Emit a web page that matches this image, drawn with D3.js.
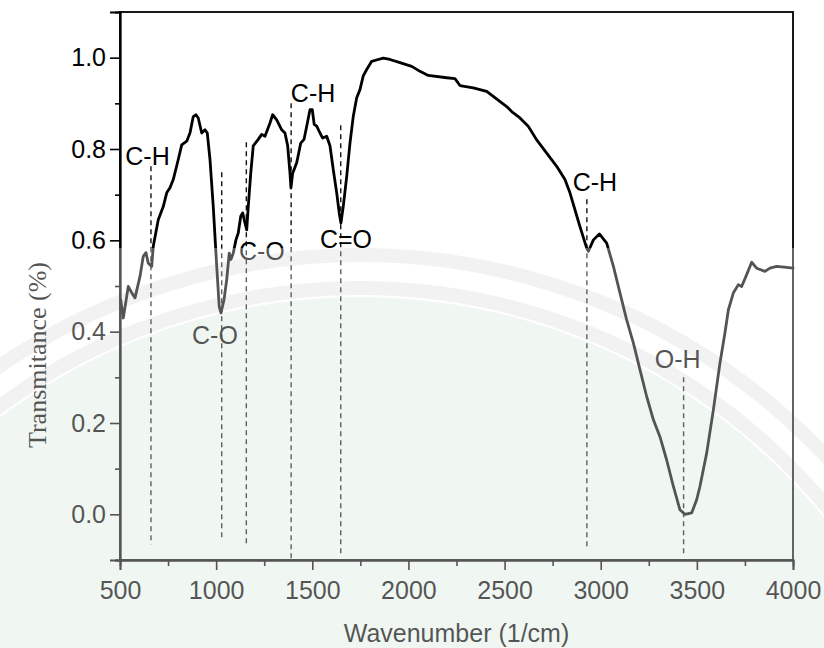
<!DOCTYPE html>
<html>
<head>
<meta charset="utf-8">
<script src="https://cdn.jsdelivr.net/npm/d3@7"></script>
<style>
  html, body { margin: 0; padding: 0; background: #ffffff; }
  svg { display: block; }
  text { font-family: "Liberation Sans", Arial, sans-serif; }
</style>
</head>
<body>
<svg id="chart" width="824" height="648"></svg>
<script>
// ---------- DATA ----------
const wavenumber = [504,510,517,543,561,578,604,621,635,647,665,673,699,725,743,760,777,803,821,847,864,881,895,907,925,942,954,968,985,
  1003,1016,1025,1041,1055,1068,1077,1089,1103,1115,1128,1138,1150,1159,1167,1180,1193,1219,1237,1254,1280,1294,1315,1341,1358,1372,1384,1389,1398,
  1419,1440,1457,1471,1488,1500,1510,1523,1540,1554,1575,1592,1609,1627,1640,1649,1661,1679,1696,1713,1731,1748,1765,1783,1809,1843,1869,1904,1956,
  2017,2060,2103,2199,2242,2268,2337,2407,2441,2511,2537,2580,2623,2667,2719,2771,2814,2840,2866,2892,2927,2936,2962,2993,
  3031,3066,3100,3135,3170,3204,3239,3274,3308,3343,3378,3412,3438,3473,3499,3516,3551,3586,3620,3646,3664,3690,3716,3733,3759,3785,3811,3854,3880,3915,3967,4000];
const transmittance = [.470,.450,.430,.499,.485,.474,.521,.565,.573,.550,.543,.587,.645,.674,.704,.715,.733,.777,.809,.817,.835,.871,.875,.868,.835,.842,.835,.777,.674,
  .543,.455,.441,.470,.514,.572,.558,.572,.601,.616,.653,.660,.638,.623,.674,.747,.807,.821,.832,.828,.857,.875,.864,.842,.835,.807,.747,.715,.747,
  .770,.813,.821,.850,.886,.886,.854,.850,.835,.824,.828,.807,.755,.704,.660,.638,.674,.740,.813,.871,.912,.930,.960,.974,.992,.996,.999,.996,.989,
  .981,.970,.961,.956,.954,.939,.934,.926,.915,.893,.882,.868,.850,.820,.791,.762,.733,.704,.667,.630,.583,.576,.601,.614,
  .594,.543,.485,.426,.375,.317,.258,.207,.170,.119,.061,.010,.000,.003,.032,.061,.134,.229,.331,.397,.448,.485,.503,.499,.525,.552,.539,.532,.539,.543,.541,.539];

// annotated bands
const bandLabels   = ["C-H", "C-O", "C-O", "C-H", "C=O", "C-H", "O-H"];
const bandWn       = [661, 1029, 1157, 1390, 1648, 2928, 3431];
const bandTop      = [0.762, 0.749, 0.815, 0.900, 0.852, 0.690, 0.300];
const bandBottom   = [-0.066, -0.050, -0.072, -0.100, -0.094, -0.077, -0.094];
const labelWn      = [643, 994, 1238, 1504, 1675, 2970, 3400];
const labelT       = [0.766, 0.372, 0.556, 0.904, 0.584, 0.707, 0.321];

const xMajorTicks = [500, 1000, 1500, 2000, 2500, 3000, 3500, 4000];
const xMinorTicks = [750, 1250, 1750, 2250, 2750, 3250, 3750];
const yMajorTicks = [0.0, 0.2, 0.4, 0.6, 0.8, 1.0];
const yMinorTicks = [-0.1, 0.1, 0.3, 0.5, 0.7, 0.9];

const xTitle = "Wavenumber (1/cm)";
const yTitle = "Transmitance (%)";

(function draw() {
  const svg = d3.select("#chart");
  const W = 824, H = 648;
  const pL = 120, pR = 793, pT = 12, pB = 560;

  const x = d3.scaleLinear().domain([500, 4000]).range([pL, pR]);
  const y = d3.scaleLinear().domain([-0.1, 1.1]).range([pB, pT]);

  svg.append("rect").attr("width", W).attr("height", H).attr("fill", "#ffffff");

  // faint watermark background (below the chart)
  const defs = svg.append("defs");
  defs.append("clipPath").attr("id", "wmclip").append("rect")
    .attr("x", 0).attr("y", 248).attr("width", W).attr("height", H - 248);
  const wmg = svg.append("g").attr("clip-path", "url(#wmclip)");
  wmg.append("circle").attr("cx", 360).attr("cy", 895).attr("r", 598).attr("fill", "#e9f4ec");
  wmg.append("circle").attr("cx", 360).attr("cy", 895).attr("r", 640).attr("fill", "none")
    .attr("stroke", "#ececec").attr("stroke-width", 14);
  wmg.append("circle").attr("cx", 360).attr("cy", 895).attr("r", 607).attr("fill", "none")
    .attr("stroke", "#ececec").attr("stroke-width", 14);

  // frame
  svg.append("rect").attr("x", pL).attr("y", pT).attr("width", pR - pL).attr("height", pB - pT)
    .attr("fill", "none").attr("stroke", "#000").attr("stroke-width", 1.8);

  // axes
  const fontSize = "25px";
  const gx = svg.append("g").attr("transform", `translate(0,${pB})`)
    .call(d3.axisBottom(x).tickValues(xMajorTicks).tickSize(10).tickPadding(11.5).tickFormat(d3.format("d")));
  const gxm = svg.append("g").attr("transform", `translate(0,${pB})`)
    .call(d3.axisBottom(x).tickValues(xMinorTicks).tickSize(6).tickFormat(""));
  const gy = svg.append("g").attr("transform", `translate(${pL},0)`)
    .call(d3.axisLeft(y).tickValues(yMajorTicks).tickSize(10).tickPadding(4).tickFormat(d3.format(".1f")));
  const gym = svg.append("g").attr("transform", `translate(${pL},0)`)
    .call(d3.axisLeft(y).tickValues(yMinorTicks).tickSize(5).tickFormat(""));
  [gx, gxm, gy, gym].forEach(g => {
    g.select(".domain").attr("stroke", "#000").attr("stroke-width", 1.8);
    g.selectAll(".tick line").attr("stroke", "#000").attr("stroke-width", 1.6);
    g.selectAll(".tick text").attr("fill", "#000").style("font-size", fontSize)
      .style("font-family", '"Liberation Sans", Arial, sans-serif');
  });

  // dashed band lines
  svg.append("g").selectAll("line").data(bandWn).join("line")
    .attr("x1", d => x(d)).attr("x2", d => x(d))
    .attr("y1", (d, i) => y(bandTop[i])).attr("y2", (d, i) => y(bandBottom[i]))
    .attr("stroke", "#111").attr("stroke-width", 1.4).attr("stroke-dasharray", "5,4");

  // spectrum
  const pts = wavenumber.map((w, i) => [w, transmittance[i]]);
  svg.append("path").datum(pts)
    .attr("d", d3.line().x(d => x(d[0])).y(d => y(d[1])).curve(d3.curveLinear))
    .attr("fill", "none").attr("stroke", "#000").attr("stroke-width", 2.8)
    .attr("stroke-linejoin", "round").attr("stroke-linecap", "round");

  // band labels
  svg.append("g").selectAll("text").data(bandLabels).join("text")
    .attr("x", (d, i) => x(labelWn[i])).attr("y", (d, i) => y(labelT[i]))
    .attr("text-anchor", "middle").style("font-size", fontSize).attr("fill", "#000")
    .text(d => d);

  // titles
  svg.append("text").attr("x", (pL + pR) / 2).attr("y", 642)
    .attr("text-anchor", "middle").style("font-size", "25px").attr("fill", "#000").text(xTitle);
  svg.append("text").attr("transform", "translate(46,355) rotate(-90)")
    .attr("text-anchor", "middle").style("font-size", "26px")
    .style("font-family", '"Liberation Serif", "Times New Roman", serif').attr("fill", "#000").text(yTitle);

  // watermark veil (above)
  svg.append("rect").attr("x", 0).attr("y", 248).attr("width", W).attr("height", H - 248)
    .attr("fill", "#ffffff").attr("opacity", 0.33).style("pointer-events", "none");
})();
</script>
</body>
</html>
